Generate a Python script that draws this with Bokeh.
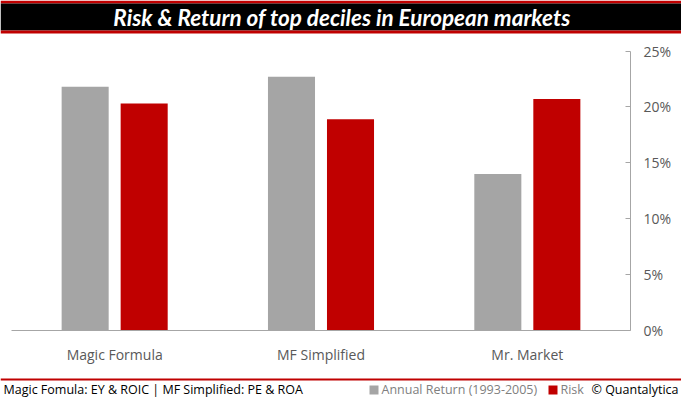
from bokeh.plotting import figure
from bokeh.models import (ColumnDataSource, Range1d, FixedTicker, LinearAxis,
                          NumeralTickFormatter)
from bokeh.transform import dodge
from bokeh.core.properties import value
from bokeh.embed import file_html
from bokeh.resources import INLINE

# ---------------- data ----------------
categories = ["Magic Formula", "MF Simplified", "Mr. Market"]
annual_return = [0.218, 0.227, 0.140]
risk = [0.203, 0.189, 0.207]
y_ticks = [0.0, 0.05, 0.10, 0.15, 0.20, 0.25]
title_text = "Risk & Return of top deciles in European markets"
footer_note = "Magic Fomula: EY & ROIC | MF Simplified: PE & ROA"
legend_labels = ["Annual Return (1993-2005)", "Risk"]
credit = "\u00a9 Quantalytica"

# ---------------- styling / layout ----------------
GRAY = "#A5A5A5"
RED = "#C00000"
AXIS = "#A6A6A6"
LABEL = "#595959"
W, H = 681, 399
PL, PR, PT, PB = 11, 630, 50.5, 330   # plot area in pixels

n = len(categories)
centers = [i + 1 for i in range(n)]
ymax = y_ticks[-1]
ux = (PR - PL) / n
uy = (PB - PT) / ymax
x_rng = Range1d(0.5 - PL / ux, n + 0.5 + (W - PR) / ux)
y_rng = Range1d(-(H - PB) / uy, ymax + PT / uy)

p = figure(width=W, height=H, x_range=x_rng, y_range=y_rng,
           x_axis_type=None, y_axis_type=None, output_backend="svg",
           toolbar_location=None, min_border=0, outline_line_color=None)
p.title.visible = False
p.grid.visible = False
p.extra_x_ranges = {"px": Range1d(0, W)}
p.extra_y_ranges = {"px": Range1d(H, 0)}

src = ColumnDataSource(dict(x=centers, ret=annual_return, risk=risk))
p.vbar(x=dodge("x", -0.143), top="ret", width=0.228, source=src,
       fill_color=GRAY, line_color=None)
p.vbar(x=dodge("x", 0.143), top="risk", width=0.228, source=src,
       fill_color=RED, line_color=None)

# category axis (drawn at y = 0)
xa = LinearAxis(fixed_location=0, bounds=(0.5, n + 0.5),
                ticker=FixedTicker(ticks=centers),
                major_label_overrides={c: lab for c, lab in zip(centers, categories)})
xa.axis_line_color = AXIS
xa.major_tick_line_color = None
xa.minor_tick_line_color = None
xa.major_label_text_color = LABEL
xa.major_label_text_font = "Open Sans"
xa.major_label_text_font_size = "14px"
xa.major_label_standoff = 8
p.add_layout(xa, "below")

# value axis on the right edge of the plot area
ya = LinearAxis(fixed_location=n + 0.5, bounds=(0, ymax),
                ticker=FixedTicker(ticks=y_ticks),
                formatter=NumeralTickFormatter(format="0%"))
ya.axis_line_color = AXIS
ya.major_tick_line_color = AXIS
ya.major_tick_in = 5
ya.major_tick_out = 0
ya.minor_tick_line_color = None
ya.major_label_text_color = LABEL
ya.major_label_text_font = "Open Sans"
ya.major_label_text_font_size = "14px"
ya.major_label_standoff = 13
p.add_layout(ya, "right")

# ---------------- title band ----------------
px = dict(x_range_name="px", y_range_name="px")
p.quad(left=[0, 0, 0], right=[W, W, W], top=[0, 3, 30], bottom=[3, 30, 33],
       fill_color=[RED, "black", RED], line_color=None, **px)
p.text(x=[W / 2 + 1], y=[16.5], text=[title_text], text_align="center",
       text_baseline="middle", text_color="white",
       text_font=value("Lato"), text_font_style="bold italic",
       text_font_size="22.5px", **px)

# ---------------- footer ----------------
p.quad(left=[0], right=[W], top=[378], bottom=[380], fill_color=RED,
       line_color=None, **px)
p.text(x=[3], y=[389], text=[footer_note], text_align="left",
       text_baseline="middle", text_color="black",
       text_font=value("Open Sans"), text_font_size="12.5px", **px)
p.quad(left=[369, 548], right=[378, 557], top=[385, 385], bottom=[394, 394],
       fill_color=[GRAY, RED], line_color=None, **px)
p.text(x=[381, 560], y=[389, 389], text=legend_labels, text_align="left",
       text_baseline="middle", text_color="#808080",
       text_font=value("Open Sans"), text_font_size="12.5px", **px)
p.text(x=[678], y=[389], text=[credit], text_align="right",
       text_baseline="middle", text_color="black",
       text_font=value("Open Sans"), text_font_size="12.5px", **px)

open("out.html", "w").write(file_html(p, INLINE))
